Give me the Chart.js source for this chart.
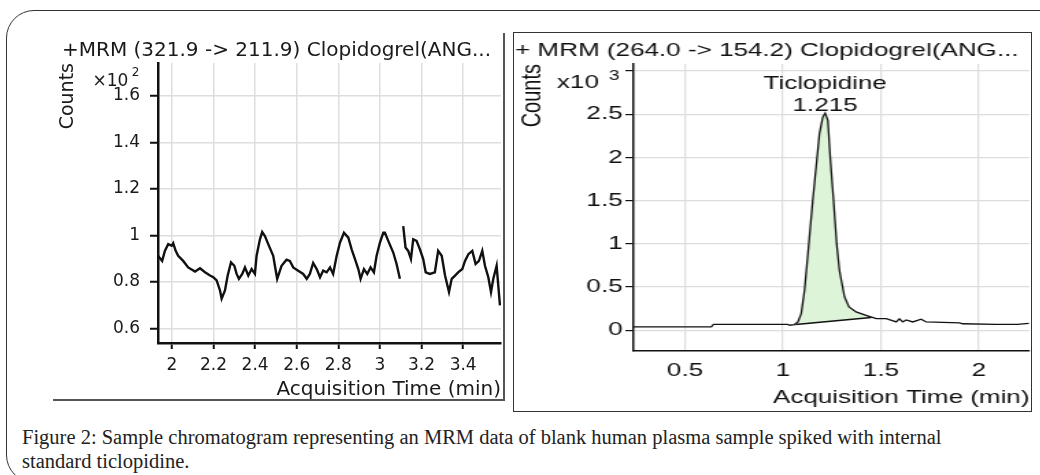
<!DOCTYPE html>
<html>
<head>
<meta charset="utf-8">
<script src="https://cdn.jsdelivr.net/npm/chart.js@4.4.1/dist/chart.umd.min.js"></script>
<style>
html, body { margin: 0; padding: 0; background: #fff; }
body { width: 1040px; height: 475px; position: relative; overflow: hidden; }
.frame { position: absolute; left: 6px; top: 10px; width: 1100px; height: 471px; border: 1.3px solid #333; border-radius: 28px; }
.edgeRight { position: absolute; left: 503px; top: 33px; width: 2px; height: 368px; background: #555; }
.edgeBottom { position: absolute; left: 53px; top: 399px; width: 452px; height: 2px; background: #555; }
.rightBox { position: absolute; left: 513px; top: 32px; width: 519px; height: 380px; border: 1.5px solid #333; box-sizing: border-box; }
#leftWrap { position: absolute; left: 40px; top: 30px; width: 463px; height: 372px; }
/* the right plot in the source is stretched sideways */
#rightWrap { position: absolute; left: 513px; top: 32px; width: 379px; height: 380px; transform: scaleX(1.37); transform-origin: 0 0; }
.caption { position: absolute; left: 22px; top: 425px; font-family: 'Liberation Serif', serif; font-size: 20.5px; line-height: 24px; color: #222; white-space: nowrap; }
</style>
</head>
<body>
<div class="frame"></div>
<div class="edgeRight"></div>
<div class="edgeBottom"></div>
<div class="rightBox"></div>
<div id="leftWrap"><canvas id="leftChart"></canvas></div>
<div id="rightWrap"><canvas id="rightChart"></canvas></div>
<div class="caption">Figure 2: Sample chromatogram representing an MRM data of blank human plasma sample spiked with internal<br>standard ticlopidine.</div>

<script>
// left panel: blank channel 321.9 -> 211.9 (counts x10^2)
const leftTitle = '+MRM (321.9 -> 211.9) Clopidogrel(ANG...';
const leftTimes = [
  1.933, 1.953, 1.966, 1.982, 1.999, 2.006, 2.018, 2.030, 2.054, 2.078,
  2.111, 2.135, 2.159, 2.183, 2.199, 2.215, 2.231, 2.239, 2.255, 2.268,
  2.284, 2.300, 2.311, 2.322, 2.338, 2.351, 2.367, 2.383, 2.399, 2.407,
  2.423, 2.434, 2.447, 2.463, 2.487, 2.495, 2.506, 2.527, 2.551, 2.567,
  2.583, 2.607, 2.631, 2.648, 2.663, 2.679, 2.696, 2.712, 2.727, 2.744,
  2.760, 2.775, 2.792, 2.808, 2.827, 2.848, 2.864, 2.880, 2.896, 2.907,
  2.923, 2.939, 2.955, 2.971, 2.984, 3.000, 3.016, 3.024, 3.040, 3.064,
  3.080, 3.096, 3.104, 3.112, 3.123, 3.136, 3.149, 3.160, 3.176, 3.192,
  3.208, 3.220, 3.240, 3.264, 3.280, 3.297, 3.313, 3.332, 3.345, 3.361,
  3.376, 3.396, 3.409, 3.425, 3.444, 3.460, 3.476, 3.492, 3.505, 3.521,
  3.534, 3.545, 3.561, 3.569, 3.577
];
const leftCounts = [
  0.912, 0.890, 0.933, 0.962, 0.955, 0.966, 0.933, 0.912, 0.890, 0.862,
  0.844, 0.858, 0.841, 0.827, 0.820, 0.806, 0.763, 0.728, 0.763, 0.827,
  0.884, 0.869, 0.834, 0.813, 0.834, 0.862, 0.827, 0.855, 0.834, 0.912,
  0.983, 1.014, 0.997, 0.962, 0.912, 0.869, 0.813, 0.869, 0.895, 0.890,
  0.862, 0.848, 0.834, 0.813, 0.834, 0.881, 0.855, 0.820, 0.848, 0.841,
  0.862, 0.834, 0.912, 0.969, 1.011, 0.990, 0.940, 0.898, 0.855, 0.813,
  0.855, 0.834, 0.862, 0.841, 0.912, 0.969, 1.011, 1.011, 0.976, 0.926,
  0.877, 0.813, null, 1.040, 0.948, 0.933, 0.898, 0.983, 0.976, 0.940,
  0.898, 0.841, 0.834, 0.841, 0.933, 0.912, 0.827, 0.756, 0.813, 0.827,
  0.841, 0.855, 0.890, 0.919, 0.933, 0.877, 0.890, 0.933, 0.869, 0.820,
  0.756, 0.813, 0.869, 0.784, 0.699
];
const leftXTicks = [2, 2.2, 2.4, 2.6, 2.8, 3, 3.2, 3.4];
const leftYTicks = [0.6, 0.8, 1, 1.2, 1.4, 1.6];

// right panel: internal standard channel 264.0 -> 154.2 (counts x10^3)
const rightTitle = '+ MRM (264.0 -> 154.2) Clopidogrel(ANG...';
const rightTimes = [
  0.234, 0.634, 0.645, 1.024, 1.033, 1.059, 1.076, 1.093, 1.110, 1.132,
  1.152, 1.169, 1.186, 1.203, 1.215, 1.229, 1.241, 1.258, 1.274, 1.288,
  1.314, 1.337, 1.373, 1.424, 1.476, 1.527, 1.578, 1.594, 1.611, 1.629,
  1.662, 1.705, 1.731, 1.901, 1.916, 2.088, 2.196, 2.255
];
const rightCounts = [
  0.038, 0.038, 0.069, 0.069, 0.058, 0.066, 0.096, 0.193, 0.462, 1.002,
  1.503, 1.888, 2.274, 2.466, 2.512, 2.428, 2.003, 1.503, 1.002, 0.694,
  0.385, 0.269, 0.212, 0.173, 0.135, 0.135, 0.096, 0.131, 0.096, 0.119,
  0.096, 0.128, 0.096, 0.085, 0.075, 0.069, 0.069, 0.080
];
const rightXTicks = [0.5, 1, 1.5, 2];
const rightYTicks = [0, 0.5, 1, 1.5, 2, 2.5, 3];
// integration baseline under the peak
const baseTimes = [1.065, 1.45];
const baseCounts = [0.066, 0.147];
const peakName = 'Ticlopidine';
const peakRT = '1.215';

const axisTitle = 'Acquisition Time (min)';

// draws the x10^n labels and the peak label
const textOverlay = {
  id: 'textOverlay',
  afterDraw(chart, args, opts) {
    const { ctx, chartArea } = chart;
    ctx.save();
    ctx.fillStyle = opts.color || '#111';
    ctx.textBaseline = 'alphabetic';
    (opts.items || []).forEach(it => {
      ctx.font = it.font;
      ctx.textAlign = it.align || 'left';
      let x, y;
      if (it.xValue !== undefined) {
        x = chart.scales.x.getPixelForValue(it.xValue);
        y = chart.scales.y.getPixelForValue(it.yValue) + it.dy;
      } else {
        x = chartArea.left + it.dx;
        y = chartArea.top + it.dy;
      }
      ctx.fillText(it.text, x, y);
    });
    ctx.restore();
  }
};

const fixedTicks = list => scale => { scale.ticks = list.map(v => ({ value: v })); };
const oneDecimal = v => String(Math.round(v * 10) / 10);

// ---- left chart ----
const leftFont = 'DejaVu Sans';
new Chart(document.getElementById('leftChart'), {
  type: 'line',
  data: {
    datasets: [{
      data: leftTimes.map((t, i) => ({ x: t, y: leftCounts[i] })),
      borderColor: '#111',
      borderWidth: 2.4,
      pointRadius: 0,
      tension: 0,
      spanGaps: false,
      fill: false
    }]
  },
  options: {
    responsive: true,
    maintainAspectRatio: false,
    animation: false,
    layout: { padding: { left: 22, right: 2, top: 0, bottom: 0 } },
    plugins: {
      legend: { display: false },
      tooltip: { enabled: false },
      title: {
        display: true, text: leftTitle, align: 'start', color: '#1a1a1a',
        font: { family: leftFont, size: 20, weight: 'normal', lineHeight: 1.2 },
        padding: { top: 9, bottom: 0 }
      },
      textOverlay: {
        color: '#1a1a1a',
        items: [
          { text: '×10', font: '17px "DejaVu Sans"', align: 'right', dx: -29.7, dy: 23 },
          { text: '2', font: '12px "DejaVu Sans"', align: 'left', dx: -26.3, dy: 13 }
        ]
      }
    },
    scales: {
      x: {
        type: 'linear', bounds: 'data', min: 1.933, max: 3.582,
        afterBuildTicks: fixedTicks(leftXTicks),
        afterFit: s => { s.height = 59; },
        ticks: {
          padding: 6, color: '#1a1a1a', maxRotation: 0, autoSkip: false,
          font: { family: leftFont, size: 17 }, callback: oneDecimal
        },
        grid: { color: '#dedede', lineWidth: 1.5, tickColor: '#111', tickLength: 6, tickWidth: 2 },
        border: { color: '#111', width: 2.5 },
        title: {
          display: true, text: axisTitle, align: 'end', color: '#1a1a1a',
          font: { family: leftFont, size: 20, lineHeight: 1.2 }, padding: { top: 0, bottom: 0 }
        }
      },
      y: {
        type: 'linear', bounds: 'data', min: 0.537, max: 1.741,
        afterBuildTicks: fixedTicks(leftYTicks),
        afterFit: s => { s.width = 96; },
        ticks: {
          padding: 10, color: '#1a1a1a',
          font: { family: leftFont, size: 17 }, callback: oneDecimal
        },
        grid: { color: '#dedede', lineWidth: 1.5, tickColor: '#111', tickLength: 8, tickWidth: 2 },
        border: { color: '#111', width: 2.5 },
        title: {
          display: true, text: 'Counts', align: 'end', color: '#1a1a1a',
          font: { family: leftFont, size: 19, lineHeight: 1.2 }, padding: { top: -5, bottom: 0 }
        }
      }
    }
  },
  plugins: [textOverlay]
});

// ---- right chart ----
const rightFont = 'Liberation Sans';
const tracePts = rightTimes.map((t, i) => ({ x: t, y: rightCounts[i] }));
const basePts = baseTimes.map((t, i) => ({ x: t, y: baseCounts[i] }));
const areaPts = [basePts[0]]
  .concat(tracePts.filter(p => p.x > baseTimes[0] && p.x < baseTimes[1]))
  .concat([basePts[1]]);
const peakIdx = rightCounts.indexOf(Math.max(...rightCounts));

new Chart(document.getElementById('rightChart'), {
  type: 'line',
  data: {
    datasets: [
      { data: tracePts, borderColor: '#111', borderWidth: 1.3, pointRadius: 0, tension: 0, fill: false },
      { data: basePts, borderColor: '#111', borderWidth: 1.5, pointRadius: 0, fill: false },
      { data: areaPts, borderWidth: 0, borderColor: 'rgba(0,0,0,0)', pointRadius: 0, backgroundColor: '#ddf4d9', fill: 1 }
    ]
  },
  options: {
    responsive: true,
    maintainAspectRatio: false,
    animation: false,
    layout: { padding: { left: 1.5, right: 2, top: 0, bottom: 0 } },
    plugins: {
      legend: { display: false },
      tooltip: { enabled: false },
      title: {
        display: true, text: rightTitle, align: 'start', color: '#111',
        font: { family: rightFont, size: 19, weight: 'normal', lineHeight: 1.2 },
        padding: { top: 7, bottom: 2.2 }
      },
      textOverlay: {
        color: '#111',
        items: [
          { text: 'x10', font: '19px "Liberation Sans"', align: 'right', dx: -24.8, dy: 24 },
          { text: '3', font: '14px "Liberation Sans"', align: 'left', dx: -17.6, dy: 15.5 },
          { text: peakName, font: '19px "Liberation Sans"', align: 'center', xValue: rightTimes[peakIdx], yValue: rightCounts[peakIdx], dy: -24 },
          { text: peakRT, font: '19px "Liberation Sans"', align: 'center', xValue: rightTimes[peakIdx], yValue: rightCounts[peakIdx], dy: -2 }
        ]
      }
    },
    scales: {
      x: {
        type: 'linear', bounds: 'data', min: 0.234, max: 2.258,
        afterBuildTicks: fixedTicks(rightXTicks),
        afterFit: s => { s.height = 61; },
        ticks: {
          padding: 8.6, color: '#111', maxRotation: 0, autoSkip: false,
          font: { family: rightFont, size: 19 }, callback: v => String(v)
        },
        grid: { color: '#dcdcdc', lineWidth: 1.2, drawTicks: false },
        border: { color: '#111', width: 1.5 },
        title: {
          display: true, text: axisTitle, align: 'end', color: '#111',
          font: { family: rightFont, size: 19, lineHeight: 1.2 }, padding: { top: 0, bottom: 3 }
        }
      },
      y: {
        type: 'linear', bounds: 'data', min: -0.24, max: 3.08,
        afterBuildTicks: fixedTicks(rightYTicks),
        afterFit: s => { s.width = 86; },
        ticks: {
          padding: 2, color: '#111',
          font: { family: rightFont, size: 19 }, callback: v => (v === 3 ? '' : String(v))
        },
        grid: { color: '#dcdcdc', lineWidth: 1.2, tickColor: '#111', tickLength: 5.5, tickWidth: 1.2 },
        border: { color: '#111', width: 1.5 },
        title: {
          display: true, text: 'Counts', align: 'end', color: '#111',
          font: { family: rightFont, size: 20, lineHeight: 1.2 }, padding: { top: 1, bottom: 0 }
        }
      }
    }
  },
  plugins: [textOverlay]
});
</script>
</body>
</html>
